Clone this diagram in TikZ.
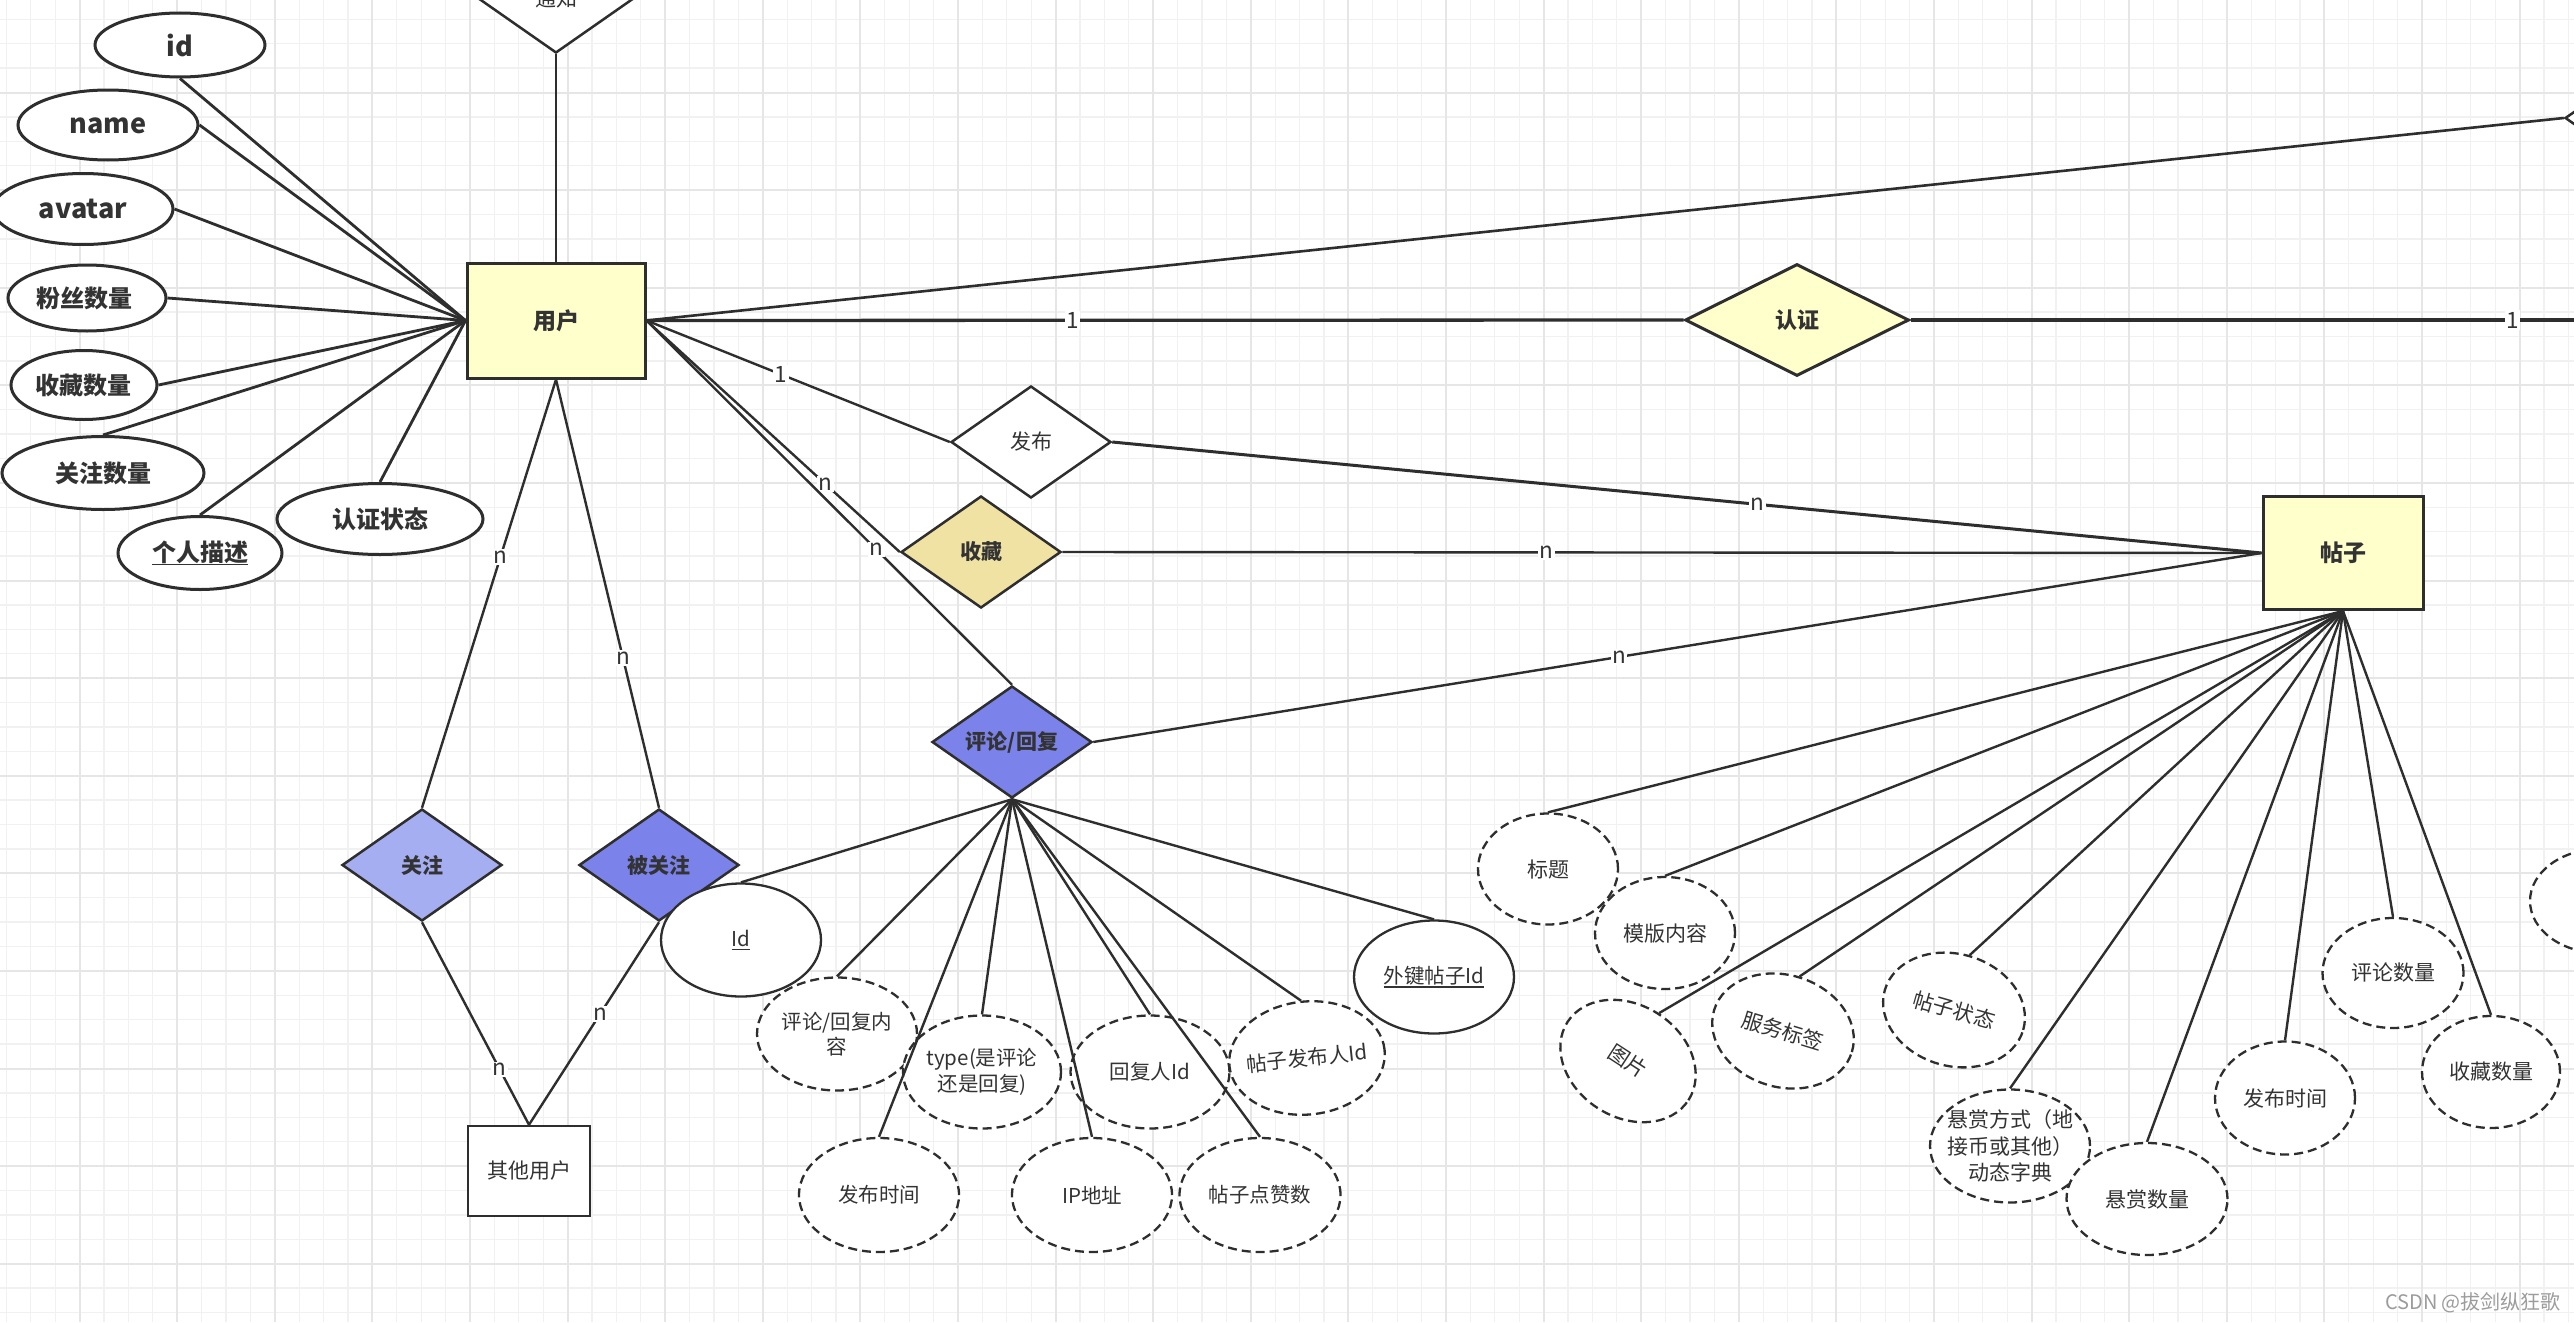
\documentclass[tikz,border=0pt]{standalone}
\usepackage{fontspec}
\setmainfont{Noto Sans CJK SC}
\usetikzlibrary{shapes.geometric}
\definecolor{ink}{HTML}{333333}
\definecolor{edgec}{HTML}{2E2E2E}
\definecolor{entfill}{HTML}{FFFFCC}
\definecolor{khaki}{HTML}{F0E2A2}
\definecolor{blueA}{HTML}{7B83EB}
\definecolor{blueB}{HTML}{A6AEF2}
\definecolor{gridminor}{HTML}{F1F1F1}
\definecolor{gridmajor}{HTML}{E6E6E6}
\definecolor{wmc}{HTML}{9C9C9C}
\newcommand\myul[2]{\setbox0\hbox{#1}\rlap{\rule[-#2]{\wd0}{1.6pt}}\box0}
\tikzset{
  ent/.style={rectangle, draw=edgec, line width=3pt, fill=entfill, inner sep=0pt},
  rel/.style={diamond, draw=edgec, line width=2.5pt, inner sep=0pt, minimum width=160pt, minimum height=112pt},
  attrb/.style={ellipse, draw=edgec, line width=3pt, fill=white, inner sep=0pt},
  attrs/.style={ellipse, draw=edgec, line width=2.3pt, fill=white, inner sep=0pt},
  attrd/.style={ellipse, draw=edgec, line width=2.3pt, dash pattern=on 9pt off 5pt, fill=white, inner sep=0pt},
  conn/.style={draw=edgec, line width=2.4pt},
  uconn/.style={draw=edgec, line width=2.8pt},
  lab/.style={fill=white, text=ink, inner sep=1.5pt, font=\fontsize{22.5}{24}\selectfont},
  txt/.style={text=ink, align=center, inner sep=0pt},
  tb/.style={txt, font=\fontsize{24}{28}\selectfont\bfseries},
  tl/.style={txt, font=\fontsize{27}{30}\selectfont\bfseries},
  tr/.style={txt, font=\fontsize{21}{25}\selectfont\bfseries},
  tn/.style={txt, font=\fontsize{20.5}{25.5}\selectfont},
  tp/.style={txt, font=\fontsize{21}{26.5}\selectfont},
}
\begin{document}
\begin{tikzpicture}[x=1pt,y=-1pt]
\useasboundingbox (0,0) rectangle (2574,1322);
\clip (0,0) rectangle (2574,1322);
\fill[white] (0,0) rectangle (2574,1322);
% grid
\foreach \i in {0,...,105} \draw[gridminor, line width=1.3pt] ({6.4+24.4*\i},0) -- ({6.4+24.4*\i},1322);
\foreach \i in {0,...,54} \draw[gridminor, line width=1.3pt] (0,{19.3+24.4*\i}) -- (2574,{19.3+24.4*\i});
\foreach \i in {0,...,26} \draw[gridmajor, line width=2pt] ({79.6+97.6*\i},0) -- ({79.6+97.6*\i},1322);
\foreach \i in {0,...,12} \draw[gridmajor, line width=2pt] (0,{92.5+97.6*\i}) -- (2574,{92.5+97.6*\i});

% entities
\node[ent, minimum width=178pt, minimum height=115pt] (user) at (556,320.5) {};
\node[ent, minimum width=160pt, minimum height=113pt] (tiezi) at (2343,553) {};
\node[ent, fill=white, line width=2.5pt, minimum width=122pt, minimum height=90pt] (other) at (529,1171) {};

% relationships
\node[rel, fill=white] (tongzhi) at (556,-3) {};
\node[rel, fill=entfill, minimum width=224pt, line width=3pt] (renzheng) at (1797,320) {};
\node[rel, fill=white] (fabu) at (1031,442) {};
\node[rel, fill=khaki] (shoucang) at (981,552) {};
\node[rel, fill=blueA] (pinglun) at (1012,742) {};
\node[rel, fill=blueB] (guanzhu) at (422,865) {};
\node[rel, fill=blueA] (beiguanzhu) at (659,865) {};
\node[rel, fill=white] (rdia) at (2645,118) {};
\coordinate (redge) at (2600,320);

% user attributes
\node[attrb, minimum width=170pt, minimum height=64pt] (uid) at (180,45) {};
\node[attrb, minimum width=180pt, minimum height=70pt] (uname) at (108,125) {};
\node[attrb, minimum width=180pt, minimum height=71pt] (uavatar) at (83,209) {};
\node[attrb, minimum width=158pt, minimum height=66pt] (ufans) at (87,298) {};
\node[attrb, minimum width=146pt, minimum height=69pt] (ucollect) at (84,385) {};
\node[attrb, minimum width=202pt, minimum height=73pt] (ufollow) at (103,473) {};
\node[attrb, minimum width=164pt, minimum height=73pt] (udesc) at (200,553) {};
\node[attrb, minimum width=206pt, minimum height=71pt] (ustatus) at (380,519) {};

% comment attributes
\node[attrs, minimum width=160pt, minimum height=113pt] (cid) at (741,940) {};
\node[attrd, minimum width=160pt, minimum height=113pt] (ccontent) at (837,1034) {};
\node[attrd, minimum width=158pt, minimum height=113pt] (ctype) at (982,1072) {};
\node[attrd, minimum width=159pt, minimum height=113pt] (creplier) at (1150,1072) {};
\node[attrd, minimum width=156pt, minimum height=113pt, rotate=6] (cposter) at (1307,1058) {};
\node[attrs, minimum width=160pt, minimum height=113pt] (cpost) at (1434,977) {};
\node[attrd, minimum width=160pt, minimum height=114pt] (ctime) at (879,1195) {};
\node[attrd, minimum width=160pt, minimum height=114pt] (cip) at (1092,1195) {};
\node[attrd, minimum width=161pt, minimum height=114pt] (clikes) at (1260,1195) {};

% post attributes
\node[attrd, minimum width=140pt, minimum height=111pt] (ptitle) at (1548,869) {};
\node[attrd, minimum width=140pt, minimum height=112pt] (ptemplate) at (1665,933) {};
\node[attrd, minimum width=144pt, minimum height=112pt, rotate=-33] (ppic) at (1628,1061) {};
\node[attrd, minimum width=144pt, minimum height=112pt, rotate=-17] (ptag) at (1783,1031) {};
\node[attrd, minimum width=144pt, minimum height=112pt, rotate=-16] (pstatus) at (1954,1010) {};
\node[attrd, minimum width=160pt, minimum height=113pt] (preward) at (2010,1146) {};
\node[attrd, minimum width=161pt, minimum height=112pt] (pamount) at (2147,1199) {};
\node[attrd, minimum width=140pt, minimum height=113pt] (ptime) at (2285,1098) {};
\node[attrd, minimum width=141pt, minimum height=110pt] (pcomments) at (2393,973) {};
\node[attrd, minimum width=138pt, minimum height=112pt] (pcollect) at (2491,1072) {};
\node[attrd, minimum width=140pt, minimum height=104pt] (pextra) at (2600,901) {};

% connectors: user attributes
\foreach \a/\an in {uid/south, uname/east, uavatar/east, ufans/east, ucollect/east, ufollow/north, udesc/north, ustatus/north}
  \draw[uconn] (\a.\an) -- (user.west);

% connectors: relationships
\draw[conn] (tongzhi.south) -- (user.north);
\draw[conn, line width=2.6pt] (user.east) -- (rdia.west);
\draw[conn, line width=3.3pt] (user.east) -- node[lab, pos=0.411] (l1) {1} (renzheng.west);
\draw[conn, line width=3.3pt] (renzheng.east) -- node[lab, pos=0.873] (l2) {1} (redge);
\draw[conn] (user.east) -- node[lab, pos=0.444] (l3) {1} (fabu.west);
\draw[conn, line width=3pt] (fabu.east) -- node[lab, pos=0.5616] (l4) {n} (tiezi.west);
\draw[conn] (user.east) -- node[lab, pos=0.707] (l5) {n} (shoucang.west);
\draw[conn] (shoucang.east) -- node[lab, pos=0.404] (l6) {n} (tiezi.west);
\draw[conn] (user.east) -- node[lab, pos=0.629] (l7) {n} (pinglun.north);
\draw[conn] (pinglun.east) -- node[lab, pos=0.45] (l8) {n} (tiezi.west);
\draw[conn] (user.south) -- node[lab, pos=0.415] (l9) {n} (guanzhu.north);
\draw[conn] (user.south) -- node[lab, pos=0.65] (l10) {n} (beiguanzhu.north);
\draw[conn] (guanzhu.south) -- node[lab, pos=0.727] (l11) {n} (other.north);
\draw[conn] (beiguanzhu.south) -- node[lab, pos=0.454] (l12) {n} (other.north);

% connectors: comment attributes
\foreach \a in {cid, ccontent, ctype, creplier, cposter, cpost, ctime, cip, clikes}
  \draw[conn] (pinglun.south) -- (\a.north);

% connectors: post attributes
\foreach \a in {ptitle, ptemplate, ppic, ptag, pstatus, preward, pamount, ptime, pcomments, pcollect}
  \draw[conn] (tiezi.south) -- (\a.north);

% texts: entities and relationships
\node[txt, font=\fontsize{23}{27}\selectfont\bfseries] (userT) at (user) {用户};
\node[txt, font=\fontsize{23}{27}\selectfont\bfseries] (tieziT) at (tiezi) {帖子};
\node[tp] (otherT) at (other) {其他用户};
\node[tp] (tongzhiT) at (556,-2) {通知};
\node[txt, font=\fontsize{22}{26}\selectfont\bfseries] (renzhengT) at (renzheng) {认证};
\node[tp] (fabuT) at (fabu) {发布};
\node[tr] (shoucangT) at (shoucang) {收藏};
\node[tr] (pinglunT) at (pinglun) {评论/回复};
\node[tr] (guanzhuT) at (guanzhu) {关注};
\node[tr] (beiguanzhuT) at (beiguanzhu) {被关注};

% texts: user attributes
\node[tl] (uidT) at (180,45) {id};
\node[tl] (unameT) at (108,126) {name};
\node[tl] (uavatarT) at (83,209) {avatar};
\node[tb] (ufansT) at (84,298) {粉丝数量};
\node[tb] (ucollectT) at (83,385) {收藏数量};
\node[tb] (ufollowT) at (103,473) {关注数量};
\node[tb] (udescT) at (200,553) {\myul{个人描述}{4pt}};
\node[tb] (ustatusT) at (380,519) {认证状态};

% texts: comment attributes
\node[tn] (cidT) at (cid) {\myul{Id}{4pt}};
\node[tn] (ccontentT) at (ccontent) {评论/回复内\\容};
\node[tn] (ctypeT) at (ctype) {type(是评论\\还是回复)};
\node[tn] (creplierT) at (creplier) {回复人Id};
\node[tn, rotate=6] (cposterT) at (cposter) {帖子发布人Id};
\node[tn] (cpostT) at (cpost) {\myul{外键帖子Id}{4pt}};
\node[tn] (ctimeT) at (ctime) {发布时间};
\node[tn] (cipT) at (cip) {IP地址};
\node[tn] (clikesT) at (clikes) {帖子点赞数};

% texts: post attributes
\node[tp] (ptitleT) at (ptitle) {标题};
\node[tp] (ptemplateT) at (ptemplate) {模版内容};
\node[tp, rotate=-33] (ppicT) at (ppic) {图片};
\node[tp, rotate=-17] (ptagT) at (ptag) {服务标签};
\node[tp, rotate=-16] (pstatusT) at (pstatus) {帖子状态};
\node[tp] (prewardT) at (preward) {悬赏方式（地\\接币或其他）\\动态字典};
\node[tp] (pamountT) at (pamount) {悬赏数量};
\node[tp] (ptimeT) at (ptime) {发布时间};
\node[tp] (pcommentsT) at (pcomments) {评论数量};
\node[tp] (pcollectT) at (pcollect) {收藏数量};

% watermark
\node[txt, text=wmc, font=\fontsize{20}{22}\selectfont] (wmk) at (2473,1303) {CSDN @拔剑纵狂歌};
\end{tikzpicture}
\end{document}
